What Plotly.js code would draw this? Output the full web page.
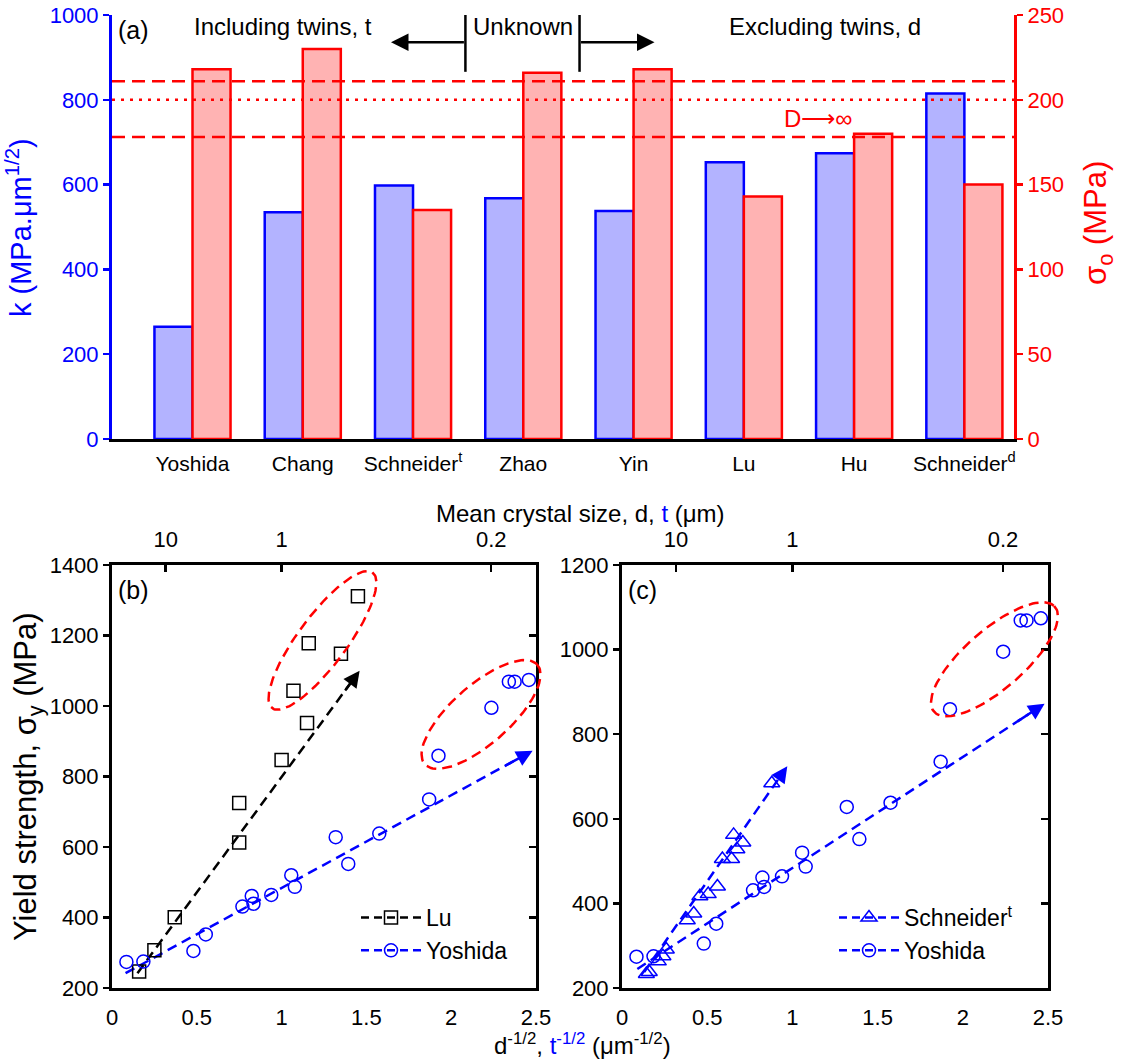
<!DOCTYPE html>
<html>
<head>
<meta charset="utf-8">
<script src="https://cdn.plot.ly/plotly-3.0.1.min.js"></script>
<style>html,body{margin:0;padding:0;background:#fff;}#chart{width:1129px;height:1062px;}</style>
</head>
<body>
<div id="chart"></div>
<script>
// ---------- Panel (a) data ----------
const categories = ['Yoshida', 'Chang', 'Schneider<sup>t</sup>', 'Zhao', 'Yin', 'Lu', 'Hu', 'Schneider<sup>d</sup>'];
const kValues = [265, 535, 598, 568, 538, 653, 674, 815];          // MPa.um^1/2 (left axis)
const sigma0Values = [218, 230, 135, 216, 218, 143, 180, 150];     // MPa (right axis)
const sigmaRefLines = [211, 200, 178];                              // D -> infinity band
const sigmaRefDash = ['dash', 'dot', 'dash'];

// ---------- Panel (b)/(c) data ----------
const luX = [0.16, 0.25, 0.37, 0.75, 0.75, 1.00, 1.15, 1.07, 1.16, 1.35, 1.45];
const luY = [247, 307, 401, 613, 725, 847, 952, 1043, 1178, 1148, 1311];
const yoshidaX = [0.085, 0.185, 0.48, 0.553, 0.769, 0.824, 0.834, 0.939, 1.057, 1.078, 1.319, 1.393, 1.576, 1.87, 1.925, 2.237, 2.34, 2.374, 2.458];
const yoshidaY = [274, 275, 305, 352, 431, 461, 439, 464, 520, 487, 628, 552, 638, 735, 859, 995, 1069, 1069, 1074];
const schneiderX = [0.143, 0.160, 0.213, 0.240, 0.26, 0.383, 0.421, 0.457, 0.506, 0.560, 0.589, 0.643, 0.674, 0.655, 0.709, 0.879];
const schneiderY = [233, 238, 263, 275, 291, 360, 376, 417, 422, 440, 505, 505, 528, 562, 544, 684];

// fit lines (start, arrow tip)
const luFitX = [0.15, 1.46], luFitY = [242, 1100];
const yoshidaFitBX = [0.08, 2.48], yoshidaFitBY = [242, 873];
const schneiderFitX = [0.13, 0.97], schneiderFitY = [238, 724];
const yoshidaFitCX = [0.09, 2.48], yoshidaFitCY = [245, 872];

// top axis: mean crystal size (um) at d^-1/2 positions
const topTickText = ['10', '1', '0.2'];
const topTickSize = [10, 1, 0.2];

// highlight ellipses: [cx, cy, ux, uy, vx, vy] (centre, half-axis vectors)
const ellipseB1 = [1.241, 1186, 0.294, 193, 0.121, -38];
const ellipseB2 = [2.176, 976, 0.328, 143, 0.124, -58];
const ellipseC = [2.186, 977, 0.350, 126, 0.127, -48];

// ---------- helpers ----------
const FONT = 'Liberation Sans, Arial, sans-serif';
const BLUE = '#0000ff', RED = '#ff0000';
function ellipseTrace(e, xa, ya) {
  const xs = [], ys = [];
  for (let i = 0; i <= 120; i++) {
    const t = 2 * Math.PI * i / 120;
    xs.push(e[0] + e[2] * Math.cos(t) + e[4] * Math.sin(t));
    ys.push(e[1] + e[3] * Math.cos(t) + e[5] * Math.sin(t));
  }
  return {x: xs, y: ys, xaxis: xa, yaxis: ya, mode: 'lines', showlegend: false, hoverinfo: 'skip',
    line: {color: RED, width: 2.5, dash: '10px,6px'}};
}
function fitLine(fx, fy, xa, ya, color) {
  const f = 0.96;
  return {x: [fx[0], fx[0] + f * (fx[1] - fx[0])], y: [fy[0], fy[0] + f * (fy[1] - fy[0])],
    xaxis: xa, yaxis: ya, mode: 'lines', showlegend: false, hoverinfo: 'skip',
    line: {color: color, width: 2.5, dash: '10px,6px'}};
}
function fitArrow(fx, fy, xa, ya, color) {
  const f = 0.93;
  return {x: fx[1], y: fy[1], ax: fx[0] + f * (fx[1] - fx[0]), ay: fy[0] + f * (fy[1] - fy[0]),
    xref: xa, yref: ya, axref: xa, ayref: ya, text: '', showarrow: true,
    arrowhead: 2, arrowsize: 1.3, arrowwidth: 2.5, arrowcolor: color};
}
function dummy(xa, ya) {
  return {x: [null], y: [null], xaxis: xa, yaxis: ya, mode: 'markers', showlegend: false, hoverinfo: 'skip'};
}

const idx = categories.map((_, i) => i);
const MS = 13;
const traces = [
  {type: 'bar', x: idx, y: kValues, xaxis: 'x', yaxis: 'y', width: 0.345, offset: -0.345,
   marker: {color: '#b3b3ff', line: {color: BLUE, width: 2.5}}, showlegend: false},
  {type: 'bar', x: idx, y: sigma0Values, xaxis: 'x', yaxis: 'y2', width: 0.345, offset: 0,
   marker: {color: '#ffb3b3', line: {color: RED, width: 2.5}}, showlegend: false},

  // panel (b)
  dummy('x3', 'y3'), dummy('x2', 'y4'),
  fitLine(luFitX, luFitY, 'x2', 'y3', '#000000'),
  fitLine(yoshidaFitBX, yoshidaFitBY, 'x2', 'y3', BLUE),
  ellipseTrace(ellipseB1, 'x6', 'y7'),
  ellipseTrace(ellipseB2, 'x6', 'y7'),
  {x: luX, y: luY, xaxis: 'x2', yaxis: 'y3', mode: 'markers', showlegend: false,
   marker: {symbol: 'square-open', size: MS, color: '#000000', line: {width: 1.5}}},
  {x: yoshidaX, y: yoshidaY, xaxis: 'x2', yaxis: 'y3', mode: 'markers', showlegend: false,
   marker: {symbol: 'circle-open', size: MS, color: BLUE, line: {width: 1.5}}},
  {x: [null], y: [null], xaxis: 'x2', yaxis: 'y3', mode: 'lines+markers', name: 'Lu', legend: 'legend',
   line: {color: '#000000', width: 2.5, dash: '8px,5px'}, marker: {symbol: 'square-open', size: MS, color: '#000000', line: {width: 1.5}}},
  {x: [null], y: [null], xaxis: 'x2', yaxis: 'y3', mode: 'lines+markers', name: 'Yoshida', legend: 'legend',
   line: {color: BLUE, width: 2.5, dash: '8px,5px'}, marker: {symbol: 'circle-open', size: MS, color: BLUE, line: {width: 1.5}}},

  // panel (c)
  dummy('x5', 'y5'), dummy('x4', 'y6'),
  fitLine(schneiderFitX, schneiderFitY, 'x4', 'y5', BLUE),
  fitLine(yoshidaFitCX, yoshidaFitCY, 'x4', 'y5', BLUE),
  ellipseTrace(ellipseC, 'x7', 'y8'),
  {x: schneiderX, y: schneiderY, xaxis: 'x4', yaxis: 'y5', mode: 'markers', showlegend: false,
   marker: {symbol: 'triangle-up-open', size: MS + 1, color: BLUE, line: {width: 1.5}}},
  {x: yoshidaX, y: yoshidaY, xaxis: 'x4', yaxis: 'y5', mode: 'markers', showlegend: false,
   marker: {symbol: 'circle-open', size: MS, color: BLUE, line: {width: 1.5}}},
  {x: [null], y: [null], xaxis: 'x4', yaxis: 'y5', mode: 'lines+markers', name: 'Schneider<sup>t</sup>', legend: 'legend2',
   line: {color: BLUE, width: 2.5, dash: '8px,5px'}, marker: {symbol: 'triangle-up-open', size: MS + 1, color: BLUE, line: {width: 1.5}}},
  {x: [null], y: [null], xaxis: 'x4', yaxis: 'y5', mode: 'lines+markers', name: 'Yoshida', legend: 'legend2',
   line: {color: BLUE, width: 2.5, dash: '8px,5px'}, marker: {symbol: 'circle-open', size: MS, color: BLUE, line: {width: 1.5}}}
];

const W = 1129, H = 1062;
const px = v => v / W, py = v => 1 - v / H;
const TF = 22;
const scatterFrame = {showline: true, linecolor: '#000', linewidth: 3, showgrid: false, zeroline: false,
  tickfont: {size: TF, color: '#000'}};

// plot-area pixel boxes of panels (b) and (c)
const bBox = [112, 536], cBox = [622, 1048], bcBoxY = [565, 988];
const bDomX = [px(bBox[0]), px(bBox[1])], cDomX = [px(cBox[0]), px(cBox[1])], bcDomY = [py(bcBoxY[1]), py(bcBoxY[0])];
const topVals = topTickSize.map(s => 1 / Math.sqrt(s));

// unclipped overlay axes (same scale, padded domain) so the ellipses can cross the frame
const PAD = 25;
function padded(box, range) {
  const per = (range[1] - range[0]) / (box[1] - box[0]);
  return {range: [range[0] - PAD * per, range[1] + PAD * per]};
}
const hid = {visible: false, showgrid: false, zeroline: false, fixedrange: true};

const layout = {
  width: W, height: H, margin: {l: 0, r: 0, t: 0, b: 0},
  paper_bgcolor: '#fff', plot_bgcolor: 'rgba(0,0,0,0)',
  font: {family: FONT, color: '#000'},
  barmode: 'group',
  // panel (a)
  xaxis: {domain: [px(112), px(1014)], anchor: 'y', range: [-0.73, 7.45], tickvals: idx, ticktext: categories,
    showline: true, linecolor: '#000', linewidth: 3, ticks: '', showgrid: false, zeroline: false,
    ticklabelstandoff: 4, tickfont: {size: 21, color: '#000'}},
  yaxis: {domain: [py(439), py(15)], anchor: 'x', range: [0, 1000], dtick: 200, showline: true, linecolor: BLUE,
    linewidth: 3, ticks: 'outside', ticklen: 6, tickwidth: 2.5, tickcolor: BLUE, showgrid: false, zeroline: false,
    tickfont: {size: TF, color: BLUE}},
  yaxis2: {overlaying: 'y', side: 'right', anchor: 'x', range: [0, 250], dtick: 50, showline: true, linecolor: RED,
    linewidth: 3, ticks: 'outside', ticklen: 6, tickwidth: 2.5, tickcolor: RED, showgrid: false, zeroline: false,
    tickfont: {size: TF, color: RED}},
  // panel (b)
  xaxis2: Object.assign({domain: bDomX, anchor: 'y3', range: [0, 2.5], dtick: 0.5, ticks: '', mirror: true,
    ticklabelstandoff: 8}, scatterFrame),
  yaxis3: Object.assign({domain: bcDomY, anchor: 'x2', range: [200, 1400], dtick: 200, ticks: 'outside', ticklen: 6,
    tickwidth: 2.5, tickcolor: '#000'}, scatterFrame),
  yaxis4: Object.assign({overlaying: 'y3', side: 'right', anchor: 'x2', range: [200, 1400], dtick: 200, ticks: 'inside',
    ticklen: 7, tickwidth: 2.5, tickcolor: '#000', showticklabels: false}, scatterFrame),
  xaxis3: Object.assign({overlaying: 'x2', side: 'top', anchor: 'y3', range: [0, 2.5],
    tickvals: topVals, ticktext: topTickText, ticks: 'inside', ticklen: 7,
    tickwidth: 2.5, tickcolor: '#000', ticklabelstandoff: 6}, scatterFrame),
  // panel (c)
  xaxis4: Object.assign({domain: cDomX, anchor: 'y5', range: [0, 2.5], dtick: 0.5, ticks: '', mirror: true,
    ticklabelstandoff: 8}, scatterFrame),
  yaxis5: Object.assign({domain: bcDomY, anchor: 'x4', range: [200, 1200], dtick: 200, ticks: 'outside', ticklen: 6,
    tickwidth: 2.5, tickcolor: '#000'}, scatterFrame),
  yaxis6: Object.assign({overlaying: 'y5', side: 'right', anchor: 'x4', range: [200, 1200], dtick: 200, ticks: 'inside',
    ticklen: 7, tickwidth: 2.5, tickcolor: '#000', showticklabels: false}, scatterFrame),
  xaxis5: Object.assign({overlaying: 'x4', side: 'top', anchor: 'y5', range: [0, 2.5],
    tickvals: topVals, ticktext: topTickText, ticks: 'inside', ticklen: 7,
    tickwidth: 2.5, tickcolor: '#000', ticklabelstandoff: 6}, scatterFrame),
  // hidden padded axes for ellipses
  xaxis6: Object.assign({domain: [px(bBox[0] - PAD), px(bBox[1] + PAD)], anchor: 'y7'}, padded(bBox, [0, 2.5]), hid),
  yaxis7: Object.assign({domain: [py(bcBoxY[1] + PAD), py(bcBoxY[0] - PAD)], anchor: 'x6'}, padded([bcBoxY[0], bcBoxY[1]], [200, 1400]), hid),
  xaxis7: Object.assign({domain: [px(cBox[0] - PAD), px(cBox[1] + PAD)], anchor: 'y8'}, padded(cBox, [0, 2.5]), hid),
  yaxis8: Object.assign({domain: [py(bcBoxY[1] + PAD), py(bcBoxY[0] - PAD)], anchor: 'x7'}, padded([bcBoxY[0], bcBoxY[1]], [200, 1200]), hid),

  legend: {x: px(356), y: py(896), xanchor: 'left', yanchor: 'top', font: {size: 23, color: '#000'},
    bgcolor: 'rgba(0,0,0,0)', itemwidth: 60, tracegroupgap: 0},
  legend2: {x: px(834), y: py(896), xanchor: 'left', yanchor: 'top', font: {size: 23, color: '#000'},
    bgcolor: 'rgba(0,0,0,0)', itemwidth: 60, tracegroupgap: 0},

  shapes: [
    ...sigmaRefLines.map((v, i) => ({type: 'line', xref: 'x domain', yref: 'y2', x0: 0, x1: 1, y0: v, y1: v,
      layer: 'above', line: {color: RED, width: 2.5, dash: sigmaRefDash[i] === 'dot' ? '3px,6px' : '13px,7px'}})),
    {type: 'line', xref: 'x', yref: 'y', x0: 2.475, x1: 2.475, y0: 866, y1: 1000, line: {color: '#000', width: 2.5}},
    {type: 'line', xref: 'x', yref: 'y', x0: 3.51, x1: 3.51, y0: 866, y1: 1000, line: {color: '#000', width: 2.5}}
  ],

  annotations: [
    {xref: 'paper', yref: 'paper', x: px(116), y: py(30), xanchor: 'left', yanchor: 'middle', text: '(a)', showarrow: false, font: {size: 25}},
    {xref: 'x', yref: 'y', x: 0.825, y: 972, xanchor: 'center', yanchor: 'middle', text: 'Including twins, t', showarrow: false, font: {size: 24}},
    {xref: 'x', yref: 'y', x: 3.0, y: 972, xanchor: 'center', yanchor: 'middle', text: 'Unknown', showarrow: false, font: {size: 24}},
    {xref: 'x', yref: 'y', x: 5.74, y: 972, xanchor: 'center', yanchor: 'middle', text: 'Excluding twins, d', showarrow: false, font: {size: 24}},
    {xref: 'x', yref: 'y', x: 1.80, y: 936, ax: 2.475, ay: 936, axref: 'x', ayref: 'y', text: '', showarrow: true,
      arrowhead: 2, arrowsize: 1.4, arrowwidth: 2.5, arrowcolor: '#000'},
    {xref: 'x', yref: 'y', x: 4.19, y: 936, ax: 3.51, ay: 936, axref: 'x', ayref: 'y', text: '', showarrow: true,
      arrowhead: 2, arrowsize: 1.4, arrowwidth: 2.5, arrowcolor: '#000'},
    {xref: 'x', yref: 'y', x: 5.67, y: 757, xanchor: 'center', yanchor: 'middle', text: 'D⟶∞', showarrow: false, font: {size: 24, color: RED}},
    {xref: 'paper', yref: 'paper', x: px(19), y: py(228), xanchor: 'center', yanchor: 'middle', text: 'k (MPa.μm<sup>1/2</sup>)',
      textangle: -90, showarrow: false, font: {size: 29, color: BLUE}},
    {xref: 'paper', yref: 'paper', x: px(1098), y: py(223), xanchor: 'center', yanchor: 'middle', text: 'σ<sub>o</sub> (MPa)',
      textangle: -90, showarrow: false, font: {size: 31, color: RED}},

    {xref: 'paper', yref: 'paper', x: px(116), y: py(590), xanchor: 'left', yanchor: 'middle', text: '(b)', showarrow: false, font: {size: 25}},
    {xref: 'paper', yref: 'paper', x: px(626), y: py(590), xanchor: 'left', yanchor: 'middle', text: '(c)', showarrow: false, font: {size: 25}},
    {xref: 'paper', yref: 'paper', x: px(580), y: py(513), xanchor: 'center', yanchor: 'middle',
      text: 'Mean crystal size, d, <span style="color:#0000ff">t</span> (μm)', showarrow: false, font: {size: 24}},
    {xref: 'paper', yref: 'paper', x: px(582), y: py(1044), xanchor: 'center', yanchor: 'middle',
      text: 'd<sup>-1/2</sup>, <span style="color:#0000ff">t<sup>-1/2</sup></span> (μm<sup>-1/2</sup>)', showarrow: false, font: {size: 24}},
    {xref: 'paper', yref: 'paper', x: px(28), y: py(777), xanchor: 'center', yanchor: 'middle',
      text: 'Yield strength, σ<sub>y</sub> (MPa)', textangle: -90, showarrow: false, font: {size: 31}},

    fitArrow(luFitX, luFitY, 'x2', 'y3', '#000000'),
    fitArrow(yoshidaFitBX, yoshidaFitBY, 'x2', 'y3', BLUE),
    fitArrow(schneiderFitX, schneiderFitY, 'x4', 'y5', BLUE),
    fitArrow(yoshidaFitCX, yoshidaFitCY, 'x4', 'y5', BLUE)
  ]
};

Plotly.newPlot('chart', traces, layout, {staticPlot: true, displayModeBar: false});
</script>
</body>
</html>
